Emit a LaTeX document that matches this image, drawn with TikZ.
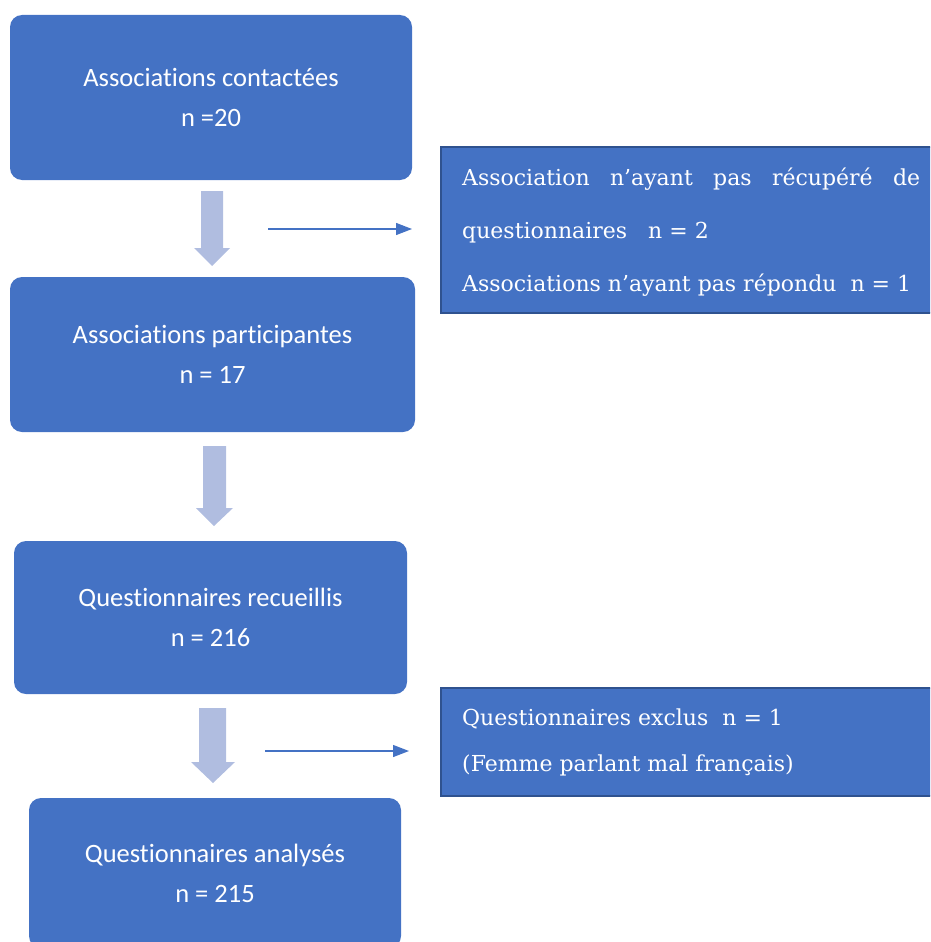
\documentclass[tikz,border=0pt]{standalone}
\usepackage{fontspec}
\setmainfont{Carlito}[Ligatures=NoCommon]
\newfontfamily\sidefont{DejaVu Serif}
\usetikzlibrary{arrows.meta}
\definecolor{boxblue}{RGB}{68,114,196}
\definecolor{boxedge}{RGB}{47,82,143}
\definecolor{arrowlight}{RGB}{176,189,224}
\begin{document}
\begin{tikzpicture}[x=1pt,y=-1pt,
  mainbox/.style={fill=boxblue, draw=none, rounded corners=12pt, text=white,
    align=center, font=\fontsize{26.5}{40}\selectfont, inner sep=0pt},
  sidebox/.style={fill=boxblue, draw=boxedge, line width=2pt, inner sep=0pt},
  sidetext/.style={text=white, anchor=base west, inner sep=0pt,
    font=\sidefont\fontsize{22}{26}\selectfont},
  thinarrow/.style={draw=boxblue, line width=1.3pt, -{Triangle[length=16pt,width=12pt]}},
  bigarrow/.style={fill=arrowlight, draw=none}]
\useasboundingbox (0,0) rectangle (930,942);
\clip (0,0) rectangle (930,942);

% main boxes
\node[mainbox, minimum width=402pt, minimum height=165pt] (b1) at (211,97.5)
  {Associations contactées\\n =20};
\node[mainbox, minimum width=405pt, minimum height=155pt] (b2) at (212.5,354.5)
  {Associations participantes\\n = 17};
\node[mainbox, minimum width=393pt, minimum height=153pt] (b3) at (210.5,617.5)
  {Questionnaires recueillis\\n = 216};
\node[mainbox, minimum width=372pt, minimum height=150pt] (b4) at (215,873)
  {Questionnaires analysés\\n = 215};

% side boxes
\node[sidebox, minimum width=500pt, minimum height=166pt] (s1) at (691,230) {};
\node[sidebox, minimum width=504pt, minimum height=108pt] (s2) at (693,742) {};

\node[sidetext] (s1a) at (462,185) {\makebox[458pt][s]{Association n’ayant pas récupéré de}};
\node[sidetext] (s1b) at (462,238) {questionnaires\ \ \ n = 2};
\node[sidetext] (s1c) at (462,291) {Associations n’ayant pas répondu\ \ n = 1};
\node[sidetext] (s2a) at (462,725) {Questionnaires exclus\ \ n = 1};
\node[sidetext] (s2b) at (462,771) {(Femme parlant mal français)};

% big down arrows
\fill[bigarrow] (201,191) -- (223,191) -- (223,248) -- (230,248) -- (212,266)
  -- (194,248) -- (201,248) -- cycle;
\fill[bigarrow] (203,446) -- (226,446) -- (226,508) -- (233,508) -- (214,526)
  -- (196,508) -- (203,508) -- cycle;
\fill[bigarrow] (199,708) -- (226,708) -- (226,762) -- (235,762) -- (213,783)
  -- (191,762) -- (199,762) -- cycle;

% thin arrows
\coordinate (t1) at (268,229);
\coordinate (e1) at (412,229);
\coordinate (t2) at (265,751);
\coordinate (e2) at (409,751);
\draw[thinarrow] (t1) -- (e1);
\draw[thinarrow] (t2) -- (e2);
\end{tikzpicture}
\end{document}
